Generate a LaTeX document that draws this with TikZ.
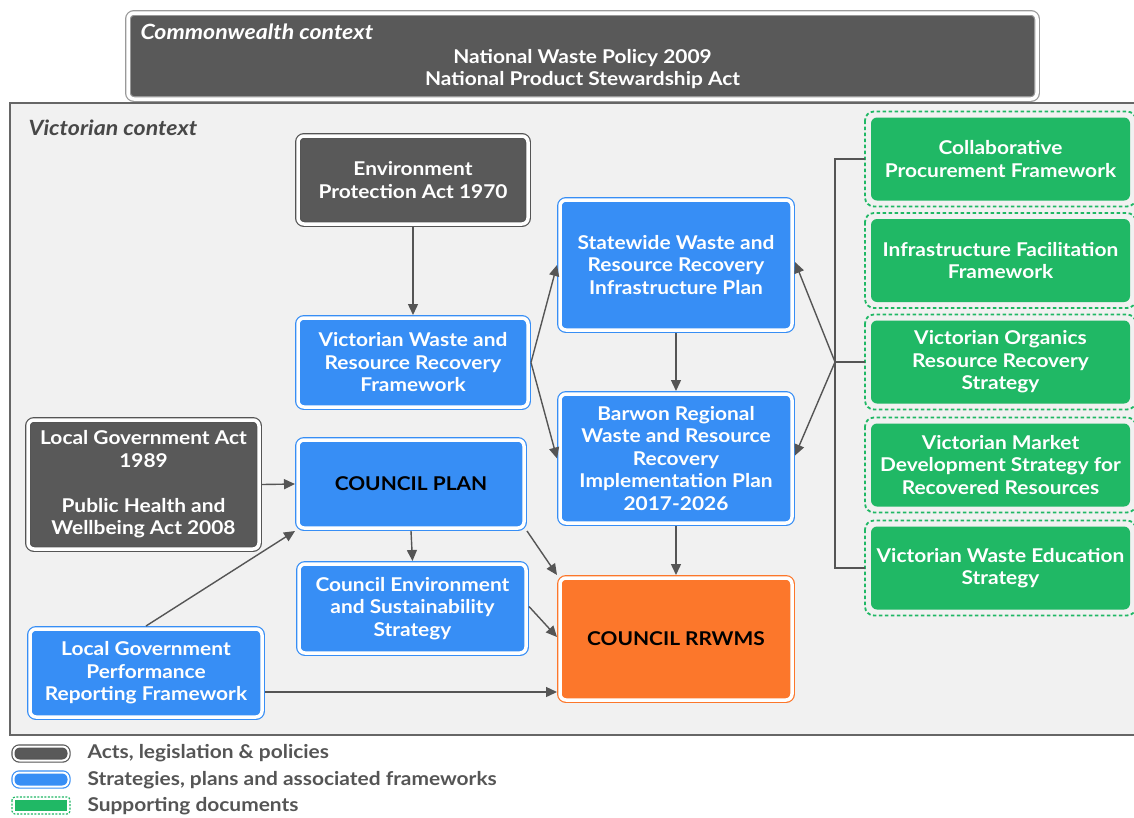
\documentclass[tikz,border=0pt]{standalone}
\usepackage{fontspec}
\setmainfont{Lato}[FakeStretch=1.1]
\usetikzlibrary{arrows.meta}
\definecolor{dk}{HTML}{595959}
\definecolor{bl}{HTML}{378EF5}
\definecolor{gr}{HTML}{20B865}
\definecolor{orr}{HTML}{FC772B}
\definecolor{ln}{HTML}{555555}
\definecolor{bgc}{HTML}{F1F1F1}
\tikzset{
  box/.style={rounded corners=6pt, line width=1.2pt, double=white, double distance=3.5pt,
    outer sep=3pt, inner sep=0pt, align=center, text=white,
    font=\fontsize{19}{22.5}\selectfont\bfseries},
  actbox/.style={box, draw=ln, fill=dk},
  stratbox/.style={box, draw=bl, fill=bl},
  rrbox/.style={box, draw=orr, fill=orr, text=black},
  supbox/.style={fill=gr, rounded corners=6pt, outer sep=6pt, inner sep=0pt, align=center,
    text=white, font=\fontsize{19}{22.5}\selectfont\bfseries,
    minimum width=259pt, minimum height=83pt},
  supframe/.style={draw=gr, line width=1.8pt, dash pattern=on 3.5pt off 2.5pt, rounded corners=9pt},
  arr/.style={draw=ln, line width=1.4pt, -{Triangle[length=11pt,width=10pt]}},
  conn/.style={draw=ln, line width=1.4pt},
  legtext/.style={anchor=west, text=ln, font=\fontsize{19}{20}\selectfont\bfseries},
}
\begin{document}
\begin{tikzpicture}[x=1pt,y=-1pt]
\useasboundingbox (0,0) rectangle (1134,817);
\clip (0,0) rectangle (1134,817);
\fill[white] (0,0) rectangle (1134,817);
% Victorian context area
\draw[draw=ln!90, fill=bgc, line width=1.6pt] (10,103) rectangle (1150,735);
\node[anchor=west, text=ln!85!black, font=\fontsize{21}{22}\selectfont\bfseries\itshape] (vic) at (25,128) {Victorian context};
% Commonwealth
\node[box, draw=gray!80, fill=dk, minimum width=909pt, minimum height=86pt] (cw) at (582.5,56) {};
\node[anchor=west, text=white, font=\fontsize{21}{22}\selectfont\bfseries\itshape] (cwt) at (137,32) {Commonwealth context};
\node[text=white, align=center, font=\fontsize{19}{22.5}\selectfont\bfseries] (cwl) at (582.5,69) {National Waste Policy 2009\\National Product Stewardship Act};
% nodes
\node[actbox, minimum width=230pt, minimum height=88pt] (epa) at (413,180) {Environment\\Protection Act 1970};
\node[stratbox, minimum width=230pt, minimum height=89pt] (vw) at (413,362.5) {Victorian Waste and\\Resource Recovery\\Framework};
\node[stratbox, minimum width=232pt, minimum height=130pt] (sw) at (676,265) {Statewide Waste and\\Resource Recovery\\Infrastructure Plan};
\node[stratbox, minimum width=232pt, minimum height=129pt] (bw) at (676,458.5) {Barwon Regional\\Waste and Resource\\Recovery\\Implementation Plan\\2017-2026};
\node[actbox, minimum width=231pt, minimum height=129pt] (lga) at (143.5,484.5) {Local Government Act\\1989\\[22.5pt]Public Health and\\Wellbeing Act 2008};
\node[stratbox, minimum width=226pt, minimum height=88pt, text=black] (cp) at (411,484) {COUNCIL PLAN};
\node[stratbox, minimum width=227pt, minimum height=89pt] (ces) at (412.5,608.5) {Council Environment\\and Sustainability\\Strategy};
\node[rrbox, minimum width=232pt, minimum height=122pt] (rr) at (676,639) {COUNCIL RRWMS};
\node[stratbox, minimum width=232pt, minimum height=88pt] (lp) at (146,673) {Local Government\\Performance\\Reporting Framework};
% supporting
\node[supbox] (c1) at (1000.5,159) {Collaborative\\Procurement Framework};
\node[supbox] (c2) at (1000.5,260.5) {Infrastructure Facilitation\\Framework};
\node[supbox] (c3) at (1000.5,362) {Victorian Organics\\Resource Recovery\\Strategy};
\node[supbox] (c4) at (1000.5,465) {Victorian Market\\Development Strategy for\\Recovered Resources};
\node[supbox] (c5) at (1000.5,568) {Victorian Waste Education\\Strategy};
\foreach \n in {c1,c2,c3,c4,c5}
  \draw[supframe] (\n.north west) rectangle (\n.south east);
% connectors
\draw[arr] (epa.south) -- (vw.north);
\draw[arr] (vw.east) -- (sw.west);
\draw[arr] (vw.east) -- (bw.west);
\draw[arr] (sw.south) -- (bw.north);
\draw[arr] (bw.south) -- (rr.north);
\draw[arr] (lga.east) -- (cp.west);
\draw[arr] (cp.south) -- (ces.north);
\draw[arr] (lp.north) -- (cp.south west);
\draw[arr] (cp.south east) -- (rr.north west);
\draw[arr] ([yshift=2pt]ces.east) -- ([yshift=2pt]rr.west);
\draw[arr] ([yshift=-19pt]lp.east) -- ([yshift=-19pt]lp.east -| rr.west);
\coordinate (hub) at (835,362);
\draw[conn] (c1.west) -| (hub) |- (c5.west);
\draw[conn] (c3.west) -- (hub);
\draw[arr] (hub) -- ([yshift=3pt]sw.east);
\draw[arr] (hub) -- ([yshift=3pt]bw.east);
% legend
\node[actbox, minimum width=55pt, minimum height=14pt, double distance=2pt, outer sep=0pt] (l1) at (41,753.5) {};
\node[stratbox, minimum width=55pt, minimum height=14pt, double distance=2pt, outer sep=0pt] (l2) at (41,779.5) {};
\node[fill=gr, minimum width=52pt, minimum height=11pt, inner sep=0pt, outer sep=3pt] (l3) at (41,805.5) {};
\draw[draw=gr, line width=1.2pt, dash pattern=on 2pt off 1.5pt, rounded corners=3pt] (l3.north west) rectangle (l3.south east);
\node[legtext] (t1) at (84,753) {Acts, legislation \& policies};
\node[legtext] (t2) at (84,780) {Strategies, plans and associated frameworks};
\node[legtext] (t3) at (84,806) {Supporting documents};
\end{tikzpicture}
\end{document}
